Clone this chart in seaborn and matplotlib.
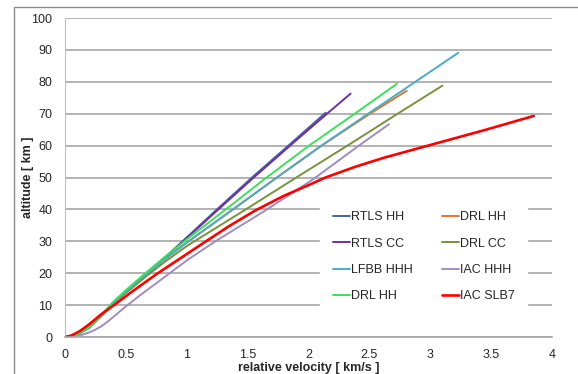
import matplotlib
matplotlib.use("Agg")
import matplotlib.pyplot as plt
from matplotlib.patches import Rectangle
import seaborn as sns
import pandas as pd

# velocity [km/s] / altitude [km]
rtls_hh_v = [0, 0.1, 0.2, 0.3, 0.4, 0.5, 0.66, 0.8, 0.96, 1.248, 1.536, 1.85, 2.14]
rtls_hh_h = [0, 0.7, 3.0, 6.8, 10.8, 14.2, 19.6, 24.2, 29.8, 40.0, 50.0, 60.5, 70.3]

drl_hh_o_v = [0, 0.1, 0.2, 0.3, 0.4, 0.5, 0.66, 0.8, 1.0, 1.38, 1.74, 2.107, 2.49, 2.807]
drl_hh_o_h = [0, 0.7, 3.0, 6.8, 10.8, 14.2, 19.5, 23.8, 29.6, 40.0, 50.0, 60.0, 69.6, 77.2]

rtls_cc_v = [0, 0.1, 0.2, 0.3, 0.4, 0.5, 0.66, 0.8, 0.96, 1.26, 1.55, 1.87, 2.14, 2.346]
rtls_cc_h = [0, 0.7, 3.0, 6.7, 10.7, 14.1, 19.5, 24.0, 29.6, 40.0, 50.0, 60.7, 69.6, 76.3]

drl_cc_v = [0, 0.1, 0.2, 0.3, 0.4, 0.5, 0.66, 0.8, 1.0, 1.485, 1.9, 2.32, 2.72, 3.10]
drl_cc_h = [0, 0.7, 2.9, 6.6, 10.5, 13.8, 18.8, 23.0, 28.5, 40.0, 50.0, 60.0, 69.7, 78.8]

lfbb_hhh_v = [0, 0.1, 0.2, 0.3, 0.4, 0.5, 0.66, 0.8, 1.0, 1.38, 1.74, 2.107, 2.49, 3.23]
lfbb_hhh_h = [0, 0.7, 3.0, 6.8, 10.8, 14.2, 19.5, 23.8, 29.6, 40.0, 50.0, 60.0, 70.0, 89.1]

iac_hhh_v = [0, 0.1, 0.15, 0.2, 0.25, 0.3, 0.35, 0.4, 0.45, 0.5, 0.6, 0.86, 1.0,
             1.235, 1.66, 2.04, 2.414, 2.661]
iac_hhh_h = [0, 0.35, 0.8, 1.45, 2.3, 3.4, 4.8, 6.4, 8.0, 9.6, 12.6, 20.0, 24.0,
             30.0, 40.0, 49.5, 60.0, 66.7]

drl_hh_g_v = [0, 0.1, 0.2, 0.3, 0.4, 0.5, 0.66, 0.8, 1.0, 1.32, 1.656, 2.005, 2.38, 2.727]
drl_hh_g_h = [0, 0.7, 3.1, 7.0, 11.2, 14.7, 20.0, 24.5, 30.6, 40.0, 50.0, 60.0, 70.0, 79.4]

iac_slb7_v = [0, 0.05, 0.12, 0.2, 0.3, 0.41, 0.55, 0.755, 1.0, 1.15, 1.35, 1.56, 1.8,
              2.0, 2.14, 2.38, 2.62, 3.03, 3.45, 3.85]
iac_slb7_h = [0, 0.4, 1.8, 4.0, 7.2, 10.2, 14.2, 19.8, 26.0, 29.8, 34.8, 39.6, 44.3,
              47.6, 50.0, 53.3, 56.2, 60.5, 64.9, 69.3]

# (label, v, h, colour, width) in drawing order
series = [
    ("RTLS HH", rtls_hh_v, rtls_hh_h, "#43659E", 1.4),
    ("DRL HH", drl_hh_o_v, drl_hh_o_h, "#E0782C", 1.4),
    ("RTLS CC", rtls_cc_v, rtls_cc_h, "#7030A0", 1.4),
    ("DRL CC", drl_cc_v, drl_cc_h, "#77933C", 1.4),
    ("LFBB HHH", lfbb_hhh_v, lfbb_hhh_h, "#4BACC6", 1.4),
    ("IAC HHH", iac_hhh_v, iac_hhh_h, "#A08CC2", 1.4),
    ("DRL HH", drl_hh_g_v, drl_hh_g_h, "#3CE05A", 1.4),
    ("IAC SLB7", iac_slb7_v, iac_slb7_h, "#FF0000", 1.9),
]

sns.set_style("white")
plt.rcParams["font.family"] = ["Liberation Sans", "DejaVu Sans"]

fig = plt.figure(figsize=(5.78, 3.74), dpi=100)
ax = fig.add_axes([65 / 578, 1 - 337 / 374, 487 / 578, 319 / 374])

# outer chart border
fig.patches.append(Rectangle((14 / 578, -0.05), 1.2, 1 - 7 / 374 + 0.05,
                             transform=fig.transFigure, fill=False,
                             edgecolor="#8C8C8C", linewidth=1.0))

handles = {}
for name, v, h, col, lw in series:
    df = pd.DataFrame({"v": v, "h": h})
    sns.lineplot(data=df, x="v", y="h", sort=False, estimator=None,
                 color=col, linewidth=lw, ax=ax)
    handles[(name, col)] = ax.lines[-1]

ax.set_xlim(0, 4)
ax.set_ylim(0, 100)
ax.set_xticks([0, 0.5, 1, 1.5, 2, 2.5, 3, 3.5, 4])
ax.set_xticklabels(["0", "0.5", "1", "1.5", "2", "2.5", "3", "3.5", "4"])
ax.set_yticks(range(0, 101, 10))
ax.grid(axis="y", color="#A6A6A6", linewidth=1.2)
ax.set_axisbelow(True)
for s in ["top", "right"]:
    ax.spines[s].set_visible(False)
ax.spines["left"].set_color("#BFBFBF")
ax.spines["bottom"].set_color("#A6A6A6")
ax.spines["bottom"].set_linewidth(1.2)
ax.tick_params(axis="both", length=0, labelsize=9)
ax.tick_params(axis="x", pad=9)
ax.tick_params(axis="y", pad=9)
ax.set_xlabel("relative velocity [ km/s ]", fontsize=9, fontweight="bold", labelpad=0.5)
ax.set_ylabel("altitude [ km ]", fontsize=9, fontweight="bold", labelpad=-2)

order = [("RTLS HH", "#43659E"), ("RTLS CC", "#7030A0"), ("LFBB HHH", "#4BACC6"),
         ("DRL HH", "#3CE05A"), ("DRL HH", "#E0782C"), ("DRL CC", "#77933C"),
         ("IAC HHH", "#A08CC2"), ("IAC SLB7", "#FF0000")]
leg = ax.legend([handles[k] for k in order], [k[0] for k in order], ncol=2,
                loc="center", bbox_to_anchor=(0.737, 0.2517), fontsize=9,
                frameon=True, fancybox=False, framealpha=1, edgecolor="white",
                handlelength=1.36, handletextpad=0.1, labelspacing=1.15,
                columnspacing=2.3, borderpad=1.0)

fig.savefig("out.png", dpi=100)
